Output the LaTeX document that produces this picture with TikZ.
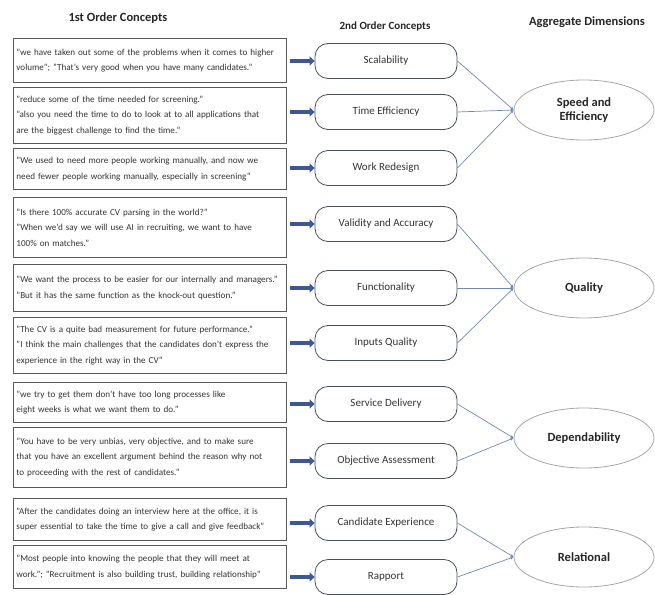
\documentclass[tikz,border=0pt]{standalone}
\usepackage{fontspec}
\setmainfont{Carlito}
\usepackage{tikz}
\usetikzlibrary{positioning, arrows.meta, shapes.geometric}
\definecolor{feedblue}{RGB}{62,88,150}
\definecolor{linkblue}{RGB}{110,138,178}
\definecolor{edgegray}{RGB}{72,80,94}

\begin{document}
\begin{tikzpicture}[x=1pt, y=-1pt, font=\fontsize{9.1}{15.5}\selectfont,
  head/.style={font=\fontsize{11}{13}\selectfont\bfseries, text=black!85},
  quote/.style={draw=black!65, line width=0.9pt, anchor=north west,
                text width=267pt, inner xsep=3pt, align=left, text=black!80,
                execute at begin node={\hyphenpenalty=10000\relax}},
  concept/.style={draw=edgegray, line width=0.8pt, rounded corners=13pt,
                  minimum width=142pt, minimum height=35pt,
                  font=\fontsize{11}{13}\selectfont, text=black!80},
  dimension/.style={ellipse, draw=black!35, line width=0.8pt,
                    minimum width=140pt, minimum height=60pt, align=center,
                    font=\fontsize{12.5}{14}\selectfont\bfseries, text=black!85},
  feed/.style={line width=3.8pt, draw=feedblue,
               -{Triangle[length=5pt, width=9pt]}, shorten <=3pt},
  link/.style={draw=linkblue, line width=0.7pt,
               -{Latex[length=3pt, width=3pt]}}]
  \useasboundingbox (0,0) rectangle (655,594);
  % column headers
  \node[head, font=\fontsize{12.5}{14}\selectfont\bfseries] (h1) at (118,18) {1st Order Concepts};
  \node[head] (h2) at (385,27) {2nd Order Concepts};
  \node[head, font=\fontsize{12.5}{14}\selectfont\bfseries] (h3) at (587,22) {Aggregate Dimensions};
  % 1st order concepts (quotes)
  \node[quote, minimum height=44pt] (q1) at (13,38)
    {"we have taken out some of the problems when it comes to higher\\ volume"; "That's very good when you have many candidates."};
  \node[quote, minimum height=56pt] (q2) at (13,87)
    {"reduce some of the time needed for screening."\\ "also you need the time to do to look at to all applications that\\ are the biggest challenge to find the time."};
  \node[quote, minimum height=41pt] (q3) at (13,148)
    {"We used to need more people working manually, and now we\\ need fewer people working manually, especially in screening"};
  \node[quote, minimum height=60pt] (q4) at (13,197)
    {"Is there 100\% accurate CV parsing in the world?"\\ "When we'd say we will use AI in recruiting, we want to have\\ 100\% on matches."};
  \node[quote, minimum height=47pt] (q5) at (13,264)
    {"We want the process to be easier for our internally and managers."\\ "But it has the same function as the knock-out question."};
  \node[quote, minimum height=56pt] (q6) at (13,317)
    {"The CV is a quite bad measurement for future performance."\\ "I think the main challenges that the candidates don't express the\\ experience in the right way in the CV"};
  \node[quote, minimum height=40pt] (q7) at (13,382)
    {"we try to get them don't have too long processes like\\ eight weeks is what we want them to do."};
  \node[quote, minimum height=60pt] (q8) at (13,427)
    {"You have to be very unbias, very objective, and to make sure\\ that you have an excellent argument behind the reason why not\\ to proceeding with the rest of candidates."};
  \node[quote, minimum height=42pt] (q9) at (13,498)
    {"After the candidates doing an interview here at the office, it is\\ super essential to take the time to give a call and give feedback"};
  \node[quote, minimum height=43pt] (q10) at (13,545)
    {"Most people into knowing the people that they will meet at\\ work."; "Recruitment is also building trust, building relationship"};
  % 2nd order concepts
  \node[concept] (s1)  at (386,61)  {Scalability};
  \node[concept] (s2)  at (386,112) {Time Efficiency};
  \node[concept] (s3)  at (386,168) {Work Redesign};
  \node[concept] (s4)  at (386,224) {Validity and Accuracy};
  \node[concept] (s5)  at (386,288) {Functionality};
  \node[concept] (s6)  at (386,343) {Inputs Quality};
  \node[concept] (s7)  at (386,404) {Service Delivery};
  \node[concept] (s8)  at (386,461) {Objective Assessment};
  \node[concept] (s9)  at (386,523) {Candidate Experience};
  \node[concept] (s10) at (386,577) {Rapport};
  % aggregate dimensions
  \node[dimension] (a1) at (584,110) {Speed and\\ Efficiency};
  \node[dimension] (a2) at (584,288) {Quality};
  \node[dimension] (a3) at (584,438) {Dependability};
  \node[dimension] (a4) at (584,557) {Relational};
  % quote -> concept
  \draw[feed] (q1.east |- s1)  -- (s1.west);
  \draw[feed] (q2.east |- s2)  -- (s2.west);
  \draw[feed] (q3.east |- s3)  -- (s3.west);
  \draw[feed] (q4.east |- s4)  -- (s4.west);
  \draw[feed] (q5.east |- s5)  -- (s5.west);
  \draw[feed] (q6.east |- s6)  -- (s6.west);
  \draw[feed] (q7.east |- s7)  -- (s7.west);
  \draw[feed] (q8.east |- s8)  -- (s8.west);
  \draw[feed] (q9.east |- s9)  -- (s9.west);
  \draw[feed] (q10.east |- s10) -- (s10.west);
  % concept -> dimension
  \draw[link] (s1.east) -- (a1.west);
  \draw[link] (s2.east) -- (a1.west);
  \draw[link] (s3.east) -- (a1.west);
  \draw[link] (s4.east) -- (a2.west);
  \draw[link] (s5.east) -- (a2.west);
  \draw[link] (s6.east) -- (a2.west);
  \draw[link] (s7.east) -- (a3.west);
  \draw[link] (s8.east) -- (a3.west);
  \draw[link] (s9.east) -- (a4.west);
  \draw[link] (s10.east) -- (a4.west);
\end{tikzpicture}
\end{document}
